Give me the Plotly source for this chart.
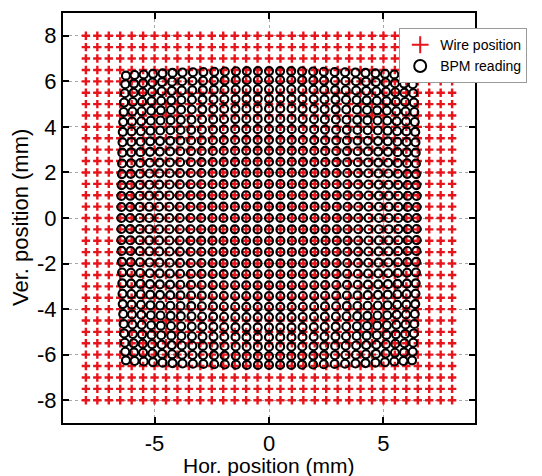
import plotly.graph_objects as go

# Wire grid positions (mm), both axes
wire_positions = [-8.0, -7.5, -7.0, -6.5, -6.0, -5.5, -5.0, -4.5, -4.0, -3.5, -3.0, -2.5,
                  -2.0, -1.5, -1.0, -0.5, 0.0, 0.5, 1.0, 1.5, 2.0, 2.5, 3.0, 3.5, 4.0,
                  4.5, 5.0, 5.5, 6.0, 6.5, 7.0, 7.5, 8.0]

# BPM reading along the centre lines for wire positions -7..7
bpm_axis = [-6.45, -6.06, -5.65, -5.23, -4.80, -4.35, -3.90, -3.43, -2.96, -2.47,
            -1.99, -1.49, -1.00, -0.50, 0.00, 0.50, 1.00, 1.49, 1.99, 2.47, 2.96,
            3.43, 3.90, 4.35, 4.80, 5.23, 5.65, 6.06, 6.45]

# outer extent of BPM readings per row/column (rounded corners)
edge_extent = [6.25, 6.28, 6.30, 6.33, 6.35, 6.37, 6.39, 6.40, 6.41, 6.42, 6.43, 6.44,
               6.45, 6.45, 6.45, 6.45, 6.45, 6.44, 6.43, 6.42, 6.41, 6.40, 6.39, 6.37,
               6.35, 6.33, 6.30, 6.28, 6.25]

x_ticks = [-5, 0, 5]
x_tick_labels = ["-5", "0", "5"]
y_ticks = [-8, -6, -4, -2, 0, 2, 4, 6, 8]
y_tick_labels = ["-8", "-6", "-4", "-2", "0", "2", "4", "6", "8"]

wx, wy = [], []
for yv in wire_positions:
    for xv in wire_positions:
        wx.append(xv)
        wy.append(yv)

bx, by = [], []
full = bpm_axis[-1]
for j, yv in enumerate(bpm_axis):
    for i, xv in enumerate(bpm_axis):
        bx.append(xv * edge_extent[j] / full)
        by.append(yv * edge_extent[i] / full)

FONT = "Liberation Sans, Arial, sans-serif"

fig = go.Figure()
fig.add_trace(go.Scatter(
    x=wx, y=wy, mode="markers", name="Wire position",
    marker=dict(symbol="cross-thin", size=6, color="#e8141c",
                line=dict(color="#e8141c", width=2.4)),
))
fig.add_trace(go.Scatter(
    x=bx, y=by, mode="markers", name="BPM reading",
    marker=dict(symbol="circle-open", size=8, color="black",
                line=dict(color="black", width=2.1)),
))

axis_common = dict(
    showline=True, linecolor="black", linewidth=2, mirror="allticks",
    ticks="inside", ticklen=6, tickwidth=1.5, tickcolor="black",
    showgrid=True, gridcolor="#a8a8a8", griddash="dot", gridwidth=1,
    zeroline=False, range=[-9, 9], automargin=False,
    tickfont=dict(family=FONT, size=22, color="black"),
)

fig.update_layout(
    width=542, height=476,
    margin=dict(l=63, r=67, t=13, b=53, autoexpand=False),
    plot_bgcolor="white", paper_bgcolor="white",
    showlegend=True,
    legend=dict(
        x=0.816, y=0.963, xanchor="left", yanchor="top",
        bgcolor="white", bordercolor="#9a9a9a", borderwidth=1,
        font=dict(family=FONT, size=14, color="black"),
        tracegroupgap=0, itemsizing="constant",
    ),
    xaxis=dict(**axis_common, tickvals=x_ticks, ticktext=x_tick_labels),
    yaxis=dict(**axis_common, tickvals=y_ticks, ticktext=y_tick_labels),
    annotations=[
        dict(text="Hor. position (mm)", xref="paper", yref="paper",
             x=0.5, y=0, yshift=-42, xanchor="center", yanchor="middle",
             showarrow=False, font=dict(family=FONT, size=21, color="black")),
        dict(text="Ver. position (mm)", xref="paper", yref="paper",
             x=0, y=0.5, xshift=-43, xanchor="center", yanchor="middle",
             textangle=-90, showarrow=False,
             font=dict(family=FONT, size=22, color="black")),
    ],
)

fig.write_html("out.html", config={"displayModeBar": False},
               post_script="document.body.style.margin='0px';document.body.style.overflow='hidden';")
